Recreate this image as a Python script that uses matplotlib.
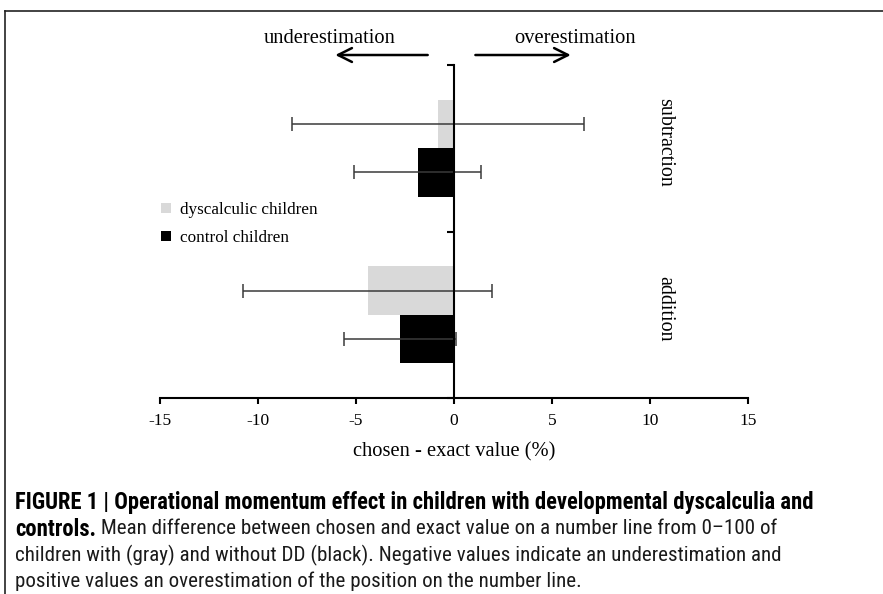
import matplotlib.pyplot as plt
from matplotlib.lines import Line2D
from matplotlib import font_manager
import numpy as np

# values (percent, chosen - exact)
categories = ['addition', 'subtraction']
dyscalculic_mean = [-4.4, -0.8]
dyscalculic_err = [6.35, 7.45]
control_mean = [-2.75, -1.85]
control_err = [2.85, 3.25]
xticks = [-15, -10, -5, 0, 5, 10, 15]

caption = [
    'FIGURE 1 | Operational momentum effect in children with developmental dyscalculia and',
    'controls.',
    ' Mean difference between chosen and exact value on a number line from 0\u2013100 of',
    'children with (gray) and without DD (black). Negative values indicate an underestimation and',
    'positive values an overestimation of the position on the number line.',
]

serif = ['Liberation Serif', 'DejaVu Serif']

# pick a narrow sans for the caption if one is around
installed = {(f.name, f.stretch) for f in font_manager.fontManager.ttflist}
names = {n for n, _ in installed}
stretch = 'normal'
narrow = ['DejaVu Sans']
for cand in ['Liberation Sans Narrow', 'Roboto Condensed', 'Open Sans Condensed', 'Noto Sans Condensed']:
    if cand in names:
        narrow = [cand, 'DejaVu Sans']
        break
else:
    if any(n == 'DejaVu Sans' and s in ('condensed', 'semi-condensed') for n, s in installed):
        stretch = 'condensed'

fig = plt.figure(figsize=(8.83, 5.94), dpi=100)
ax = fig.add_axes([160/883, 1-398/594, 588/883, 333/594])

y = np.arange(len(categories)) + 0.5
h = 0.29
err_kw = dict(ecolor='#3a3a3a', elinewidth=1.1, capsize=5, capthick=1.1)
ax.barh(y + h/2, dyscalculic_mean, height=h, color='#d9d9d9',
        xerr=dyscalculic_err, error_kw=err_kw, label='dyscalculic children', zorder=2)
ax.barh(y - h/2, control_mean, height=h, color='black',
        xerr=control_err, error_kw=err_kw, label='control children', zorder=2)

ax.set_xlim(-15, 15)
ax.set_ylim(0, len(categories))
ax.set_xticks(xticks)
ax.set_xticklabels([str(t) for t in xticks], family=serif, fontsize=12.5)
ax.set_yticks(np.arange(len(categories) + 1))
ax.set_yticklabels([])
ax.tick_params(axis='x', direction='out', length=4, width=1.5, pad=7)
ax.tick_params(axis='y', direction='out', length=5, width=1.5)

for s in ['top', 'right']:
    ax.spines[s].set_visible(False)
ax.spines['left'].set_position(('data', 0))
ax.spines['left'].set_linewidth(1.5)
ax.spines['left'].set_zorder(3)
ax.spines['bottom'].set_linewidth(1.5)

ax.set_xlabel('chosen - exact value (%)', family=serif, fontsize=14.8, labelpad=9)

for yi, name in zip(y, categories):
    ax.text(10.77, yi + 0.035, name, rotation=-90, ha='center', va='center',
            family=serif, fontsize=14.4)

# direction arrows above the plot
trans = ax.get_xaxis_transform()
arrow = dict(arrowstyle='->,head_length=1.0,head_width=0.5', lw=1.8, color='black')
ax.annotate('', xy=(-6.2, 1.03), xytext=(-1.2, 1.03), xycoords=trans,
            arrowprops=arrow, annotation_clip=False)
ax.annotate('', xy=(6.1, 1.03), xytext=(0.95, 1.03), xycoords=trans,
            arrowprops=arrow, annotation_clip=False)
ax.text(-6.35, 1.081, 'underestimation', transform=trans, ha='center', va='center',
        family=serif, fontsize=14.8)
ax.text(6.2, 1.081, 'overestimation', transform=trans, ha='center', va='center',
        family=serif, fontsize=14.8)

leg = ax.legend(loc='upper left', bbox_to_anchor=(161/883, 1-202/594),
                bbox_transform=fig.transFigure, frameon=False,
                prop={'family': serif, 'size': 12.3}, handlelength=0.6,
                handleheight=0.6, handletextpad=0.5, labelspacing=0.7,
                borderaxespad=0, borderpad=0)

# frame of the figure panel (top and left rules)
fig.add_artist(Line2D([5/883, 1], [1-11/594, 1-11/594], color='#222222', lw=1.2))
fig.add_artist(Line2D([5/883, 5/883], [0, 1-11/594], color='#222222', lw=1.2))

# caption: sizes chosen so the lines span the same widths as in the figure
cap_x = 15/883
r = fig.canvas.get_renderer()
t1 = fig.text(cap_x, 1-503/594, caption[0], family=narrow, fontstretch=stretch,
              fontsize=12.5, fontweight='bold', va='center')
bs = 12.5 * 798 / t1.get_window_extent(r).width
t1.set_fontsize(bs)
t3 = fig.text(cap_x, 1-555/594, caption[3], family=narrow, fontstretch=stretch,
              fontsize=12.5, va='center', color='#1a1a1a')
rs = 12.5 * 768 / t3.get_window_extent(r).width
t3.set_fontsize(rs)
b = fig.text(cap_x, 1-529/594, caption[1], family=narrow, fontstretch=stretch,
             fontsize=bs, fontweight='bold', va='center')
ax.annotate(caption[2], xy=(1, 0.5), xycoords=b, va='center', ha='left',
            family=narrow, fontstretch=stretch, fontsize=rs, color='#1a1a1a')
fig.text(cap_x, 1-581/594, caption[4], family=narrow, fontstretch=stretch,
         fontsize=rs, va='center', color='#1a1a1a')

fig.savefig('out.png', dpi=100)
